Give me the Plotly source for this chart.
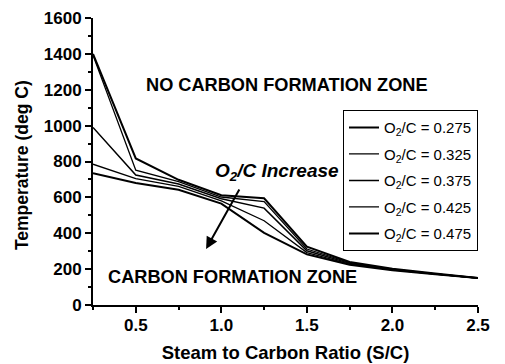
import plotly.graph_objects as go

# Steam-to-carbon ratio values along the x axis
steam_to_carbon = [0.25, 0.5, 0.75, 1.0, 1.25, 1.5, 1.75, 2.0, 2.25, 2.5]

# Carbon formation boundary temperature (deg C) for each O2/C ratio
temp_o2c_0275 = [1400, 817, 698, 612, 595, 325, 240, 202, 175, 150]
temp_o2c_0325 = [1393, 752, 688, 602, 577, 312, 236, 200, 174, 150]
temp_o2c_0375 = [990, 725, 675, 592, 540, 302, 232, 198, 173, 150]
temp_o2c_0425 = [785, 705, 661, 580, 470, 292, 228, 196, 172, 150]
temp_o2c_0475 = [735, 680, 642, 565, 402, 282, 224, 194, 171, 150]

series_labels = ["0.275", "0.325", "0.375", "0.425", "0.475"]
series_values = [temp_o2c_0275, temp_o2c_0325, temp_o2c_0375,
                 temp_o2c_0425, temp_o2c_0475]
line_widths = [2.0, 1.3, 1.5, 1.3, 2.0]

x_tick_vals = [0.5, 1.0, 1.5, 2.0, 2.5]
x_tick_text = ["0.5", "1.0", "1.5", "2.0", "2.5"]
y_tick_vals = [0, 200, 400, 600, 800, 1000, 1200, 1400, 1600]

FONT = "Liberation Sans, Arial, sans-serif"

fig = go.Figure()
for label, values, w in zip(series_labels, series_values, line_widths):
    fig.add_trace(go.Scatter(
        x=steam_to_carbon, y=values, mode="lines",
        name=f"O<sub>2</sub>/C = {label}",
        legendgroup=label,
        line=dict(color="black", width=w),
    ))

axis_common = dict(
    showline=True, linecolor="black", linewidth=2,
    ticks="outside", ticklen=6, tickwidth=2, tickcolor="black",
    showgrid=False, zeroline=False, mirror=False, automargin=False,
    tickfont=dict(family=FONT, size=17, color="black", weight="bold"),
)

fig.update_xaxes(
    range=[0.25, 2.5], tickvals=x_tick_vals, ticktext=x_tick_text,
    minor=dict(ticks="outside", ticklen=3, tickwidth=1.5, tickcolor="black",
               tick0=0.25, dtick=0.25),
    ticklabelstandoff=-2,
    title=dict(text="<b>Steam to Carbon Ratio (S/C)</b>",
               font=dict(family=FONT, size=18.5, color="black"), standoff=12),
    **axis_common,
)
fig.update_yaxes(
    range=[0, 1600], tickvals=y_tick_vals,
    minor=dict(ticks="outside", ticklen=3, tickwidth=1.5, tickcolor="black",
               dtick=100),
    **axis_common,
)

# Y-axis title placed as a rotated label beside the axis
fig.add_annotation(x=-0.184, y=0.488, xref="paper", yref="paper",
                   text="<b>Temperature (deg C)</b>", textangle=-90,
                   xanchor="center", yanchor="middle", showarrow=False,
                   font=dict(family=FONT, size=17.5, color="black"))

fig.add_annotation(x=1.382, y=1226, text="<b>NO CARBON FORMATION ZONE</b>",
                   showarrow=False, font=dict(family=FONT, size=18.2, color="black"))
fig.add_annotation(x=1.063, y=156, text="<b>CARBON FORMATION ZONE</b>",
                   showarrow=False, font=dict(family=FONT, size=18.2, color="black"))
fig.add_annotation(x=1.323, y=741, text="<b><i>O<sub>2</sub>/C Increase</i></b>",
                   showarrow=False, font=dict(family=FONT, size=19, color="black"))
# Arrow pointing in the direction of increasing O2/C
fig.add_annotation(x=0.911, y=312, ax=1.110, ay=652, axref="x", ayref="y",
                   xref="x", yref="y", text="", showarrow=True,
                   arrowhead=2, arrowsize=1.2, arrowwidth=2, arrowcolor="black")

fig.update_layout(
    width=505, height=364,
    margin=dict(l=93, r=27, t=18, b=59),
    paper_bgcolor="white", plot_bgcolor="white",
    font=dict(family=FONT, color="black"),
    showlegend=True,
    legend=dict(
        x=1.0, y=0.679, xanchor="right", yanchor="top",
        bordercolor="black", borderwidth=1, bgcolor="white",
        font=dict(family=FONT, size=15, color="black"),
        tracegroupgap=4, itemwidth=30,
    ),
)

fig.write_html("out.html")
